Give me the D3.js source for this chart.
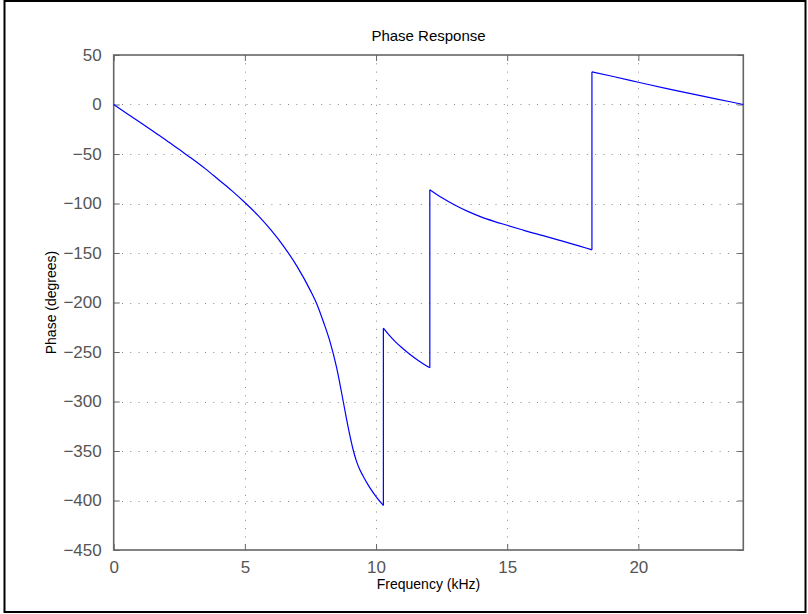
<!DOCTYPE html>
<html>
<head>
<meta charset="utf-8">
<script src="https://cdn.jsdelivr.net/npm/d3@7"></script>
<style>
  html, body { margin: 0; padding: 0; background: #fff; }
  svg { display: block; }
</style>
</head>
<body>
<script>
// ---- data ----
const freqKHz = [0,0.5,1,1.5,2,2.5,3,3.5,4,4.5,5,5.5,6,6.5,7,7.5,7.75,8,8.25,8.5,8.75,8.875,9,9.125,9.25,9.375,9.5,9.75,10,10.28,
                 10.28,10.5,10.75,11,11.25,11.5,11.75,12.05,
                 12.05,12.5,13,13.5,14,14.5,15,15.5,16,16.5,17,17.5,18,18.23,
                 18.23,19,20,21,22,23,24];
const phaseDeg = [0,-9,-18,-27,-36,-45.5,-55,-65,-76,-87,-99,-112,-127,-144,-164,-188,-202,-220,-240,-266,-300,-317.5,-334,-348.5,-360,-368.5,-375,-386.5,-396,-405,
                  -226,-233,-240,-246,-251.5,-256.5,-261,-266,
                  -86,-94,-101.5,-108,-113.5,-118,-122,-126,-130,-133.5,-137.2,-141,-145,-146.8,
                  33,28.5,22.5,16.5,11,5.5,0];
const xTicks = [0,5,10,15,20];
const yTicks = [50,0,-50,-100,-150,-200,-250,-300,-350,-400,-450];
const titleText = "Phase Response";
const xLabel = "Frequency (kHz)";
const yLabel = "Phase (degrees)";

// ---- layout ----
const W = 808, H = 614;
const L = 113.7, R = 743.3, T = 55, B = 550;
const axisColor = "#666";
const font = "Liberation Sans, Arial, Helvetica, sans-serif";

const svg = d3.select("body").append("svg").attr("width", W).attr("height", H);

// figure frame
svg.append("rect").attr("x", 4.5).attr("y", 1).attr("width", 801).attr("height", 611)
   .attr("fill", "#fff").attr("stroke", "#000").attr("stroke-width", 2);

const x = d3.scaleLinear().domain([0, 24]).range([L, R]);
const y = d3.scaleLinear().domain([-450, 50]).range([B, T]);

// grid
const grid = svg.append("g").attr("stroke", "#888").attr("stroke-width", 1)
   .attr("stroke-dasharray", "1,7.3");
xTicks.filter(t => t > 0).forEach(t => {
  grid.append("line").attr("x1", Math.round(x(t)) + 0.5).attr("x2", Math.round(x(t)) + 0.5)
      .attr("y1", T).attr("y2", B);
});
yTicks.filter(t => t > -450 && t < 50).forEach(t => {
  grid.append("line").attr("y1", Math.round(y(t)) + 0.5).attr("y2", Math.round(y(t)) + 0.5)
      .attr("x1", L).attr("x2", R);
});

// axes (ticks inward on all four sides)
const tickLen = 6;
const bottomAxis = d3.axisBottom(x).tickValues(xTicks).tickSize(-tickLen).tickPadding(11).tickFormat(d3.format("d"));
const topAxis = d3.axisTop(x).tickValues(xTicks).tickSize(-tickLen).tickFormat("");
const leftAxis = d3.axisLeft(y).tickValues(yTicks).tickSize(-tickLen).tickPadding(tickLen + 6)
   .tickFormat(d => d < 0 ? "\u2212" + Math.abs(d) : String(d));
const rightAxis = d3.axisRight(y).tickValues(yTicks).tickSize(-tickLen).tickFormat("");

function styleAxis(g) {
  g.select(".domain").remove();
  g.selectAll(".tick line").attr("stroke", axisColor).attr("stroke-width", 1);
  g.selectAll(".tick text").attr("fill", "#555").attr("font-family", font).attr("font-size", 17);
}
svg.append("g").attr("transform", `translate(0,${B})`).call(bottomAxis).call(styleAxis);
svg.append("g").attr("transform", `translate(0,${T})`).call(topAxis).call(styleAxis);
svg.append("g").attr("transform", `translate(${L},0)`).call(leftAxis).call(styleAxis);
svg.append("g").attr("transform", `translate(${R},0)`).call(rightAxis).call(styleAxis);

// axes box
svg.append("rect").attr("x", L).attr("y", T).attr("width", R - L).attr("height", B - T)
   .attr("fill", "none").attr("stroke", axisColor).attr("stroke-width", 1.6);

// data curve: split into continuous segments at repeated frequencies (phase wraps)
const pts = freqKHz.map((f, i) => ({ f, p: phaseDeg[i] }));
const segments = [[]];
pts.forEach((d, i) => {
  if (i > 0 && d.f === pts[i - 1].f) segments.push([]);
  segments[segments.length - 1].push(d);
});
const line = d3.line().x(d => x(d.f)).y(d => y(d.p)).curve(d3.curveMonotoneX);
const curve = svg.append("g").attr("fill", "none").attr("stroke", "#0000ff").attr("stroke-width", 1.2);
segments.forEach(seg => curve.append("path").attr("d", line(seg)));
for (let i = 1; i < segments.length; i++) {
  const a = segments[i - 1][segments[i - 1].length - 1], b = segments[i][0];
  curve.append("line").attr("x1", x(a.f)).attr("x2", x(b.f)).attr("y1", y(a.p)).attr("y2", y(b.p));
}

// labels
svg.append("text").attr("x", (L + R) / 2).attr("y", 41).attr("text-anchor", "middle")
   .attr("font-family", font).attr("font-size", 15).attr("fill", "#000").text(titleText);
svg.append("text").attr("x", (L + R) / 2).attr("y", 589).attr("text-anchor", "middle")
   .attr("font-family", font).attr("font-size", 14).attr("fill", "#000").text(xLabel);
svg.append("text").attr("transform", `translate(56,${(T + B) / 2}) rotate(-90)`).attr("text-anchor", "middle")
   .attr("font-family", font).attr("font-size", 14).attr("fill", "#000").text(yLabel);
</script>
</body>
</html>
